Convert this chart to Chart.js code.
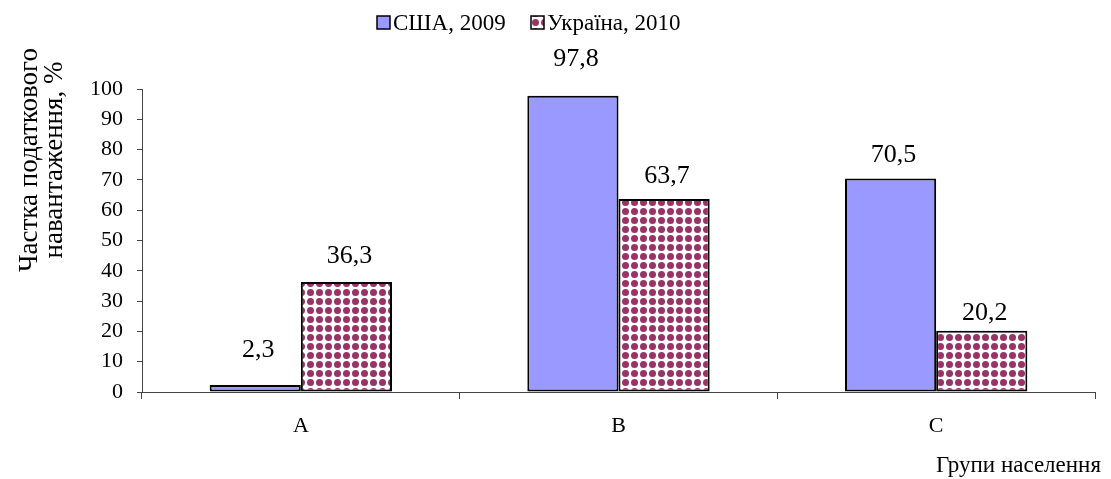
<!DOCTYPE html>
<html lang="uk">
<head>
    <meta charset="UTF-8">
    <title>Частка податкового навантаження</title>
    <script src="https://cdn.jsdelivr.net/npm/chart.js"></script>
    <style>
        html, body { margin: 0; padding: 0; background: #fff; }
        #wrap { width: 1111px; height: 479px; }
    </style>
</head>
<body>
<div id="wrap"><canvas id="myChart" width="1111" height="479"></canvas></div>

<script>
    const categories = ['A', 'B', 'C'];
    const usa2009 = [2.3, 97.8, 70.5];
    const ukraine2010 = [36.3, 63.7, 20.2];
    const seriesNames = ['США, 2009', 'Україна, 2010'];
    const yTitle = ['Частка податкового', 'навантаження, %'];
    const xTitle = 'Групи населення';

    const serif = '"Liberation Serif", "Times New Roman", serif';
    const blue = '#9999ff';
    const dotColor = '#993366';

    // dotted fill for the second series
    function makePattern() {
        const c = document.createElement('canvas');
        c.width = 9;
        c.height = 9;
        const p = c.getContext('2d');
        p.fillStyle = '#ffffff';
        p.fillRect(0, 0, 9, 9);
        p.fillStyle = dotColor;
        p.beginPath();
        p.arc(4.5, 4.5, 3.5, 0, Math.PI * 2);
        p.fill();
        return p.createPattern(c, 'repeat');
    }

    const ctx = document.getElementById('myChart').getContext('2d');
    const dots = makePattern();

    // extra vertical gap between a bar top and its value label
    const labelGap = [[35, 36, 23], [26, 23, 18]];

    const extras = {
        id: 'extras',
        afterDatasetsDraw(chart) {
            const c = chart.ctx;
            c.save();
            c.fillStyle = '#000';
            c.font = '26px ' + serif;
            c.textAlign = 'center';
            c.textBaseline = 'middle';
            chart.data.datasets.forEach((ds, i) => {
                chart.getDatasetMeta(i).data.forEach((bar, j) => {
                    const txt = String(ds.data[j]).replace('.', ',');
                    c.fillText(txt, bar.x + 3, bar.y - labelGap[i][j]);
                });
            });
            c.restore();
        },
        afterDraw(chart) {
            const c = chart.ctx;
            c.save();
            // y title, two rotated lines
            c.fillStyle = '#000';
            c.font = '27px ' + serif;
            c.textAlign = 'center';
            c.textBaseline = 'middle';
            c.translate(0, 160);
            c.rotate(-Math.PI / 2);
            c.fillText(yTitle[0], 0, 30);
            c.fillText(yTitle[1], 0, 55);
            c.restore();

            // legend
            c.save();
            c.font = '23px ' + serif;
            c.textBaseline = 'middle';
            const items = [
                { x: 377, fill: blue, text: seriesNames[0] },
                { x: 531, fill: dots, text: seriesNames[1] }
            ];
            items.forEach(it => {
                c.fillStyle = it.fill;
                c.fillRect(it.x, 16, 13, 13);
                c.strokeStyle = '#000';
                c.lineWidth = 1.5;
                c.strokeRect(it.x, 16, 13, 13);
                c.fillStyle = '#000';
                c.fillText(it.text, it.x + 16, 24);
            });
            c.restore();

            // x title
            c.save();
            c.font = '23px ' + serif;
            c.fillStyle = '#000';
            c.textAlign = 'right';
            c.textBaseline = 'middle';
            c.fillText(xTitle, 1101, 466);
            c.restore();
        }
    };

    const myChart = new Chart(ctx, {
        type: 'bar',
        data: {
            labels: categories,
            datasets: [{
                label: seriesNames[0],
                data: usa2009,
                backgroundColor: blue,
                borderColor: '#000',
                borderWidth: 2,
                borderSkipped: false,
                barPercentage: 1,
                categoryPercentage: 0.574
            }, {
                label: seriesNames[1],
                data: ukraine2010,
                backgroundColor: dots,
                borderColor: '#000',
                borderWidth: 2,
                borderSkipped: false,
                barPercentage: 1,
                categoryPercentage: 0.574
            }]
        },
        options: {
            responsive: false,
            animation: false,
            layout: { padding: { left: 0, right: 16, top: 89, bottom: 0 } },
            plugins: {
                legend: { display: false },
                tooltip: { enabled: false }
            },
            scales: {
                x: {
                    afterFit(scale) { scale.height = 87; },
                    grid: {
                        drawOnChartArea: false,
                        offset: true,
                        tickLength: 7,
                        color: '#444'
                    },
                    border: { color: '#444', width: 1 },
                    ticks: {
                        color: '#000',
                        font: { family: serif, size: 22 },
                        padding: 14
                    }
                },
                y: {
                    min: 0,
                    max: 100,
                    afterFit(scale) { scale.width = 142; },
                    grid: {
                        drawOnChartArea: false,
                        tickLength: 5,
                        color: '#444'
                    },
                    border: { color: '#444', width: 1 },
                    ticks: {
                        stepSize: 10,
                        color: '#000',
                        font: { family: serif, size: 22 },
                        padding: 14
                    }
                }
            }
        },
        plugins: [extras]
    });
</script>
</body>
</html>
